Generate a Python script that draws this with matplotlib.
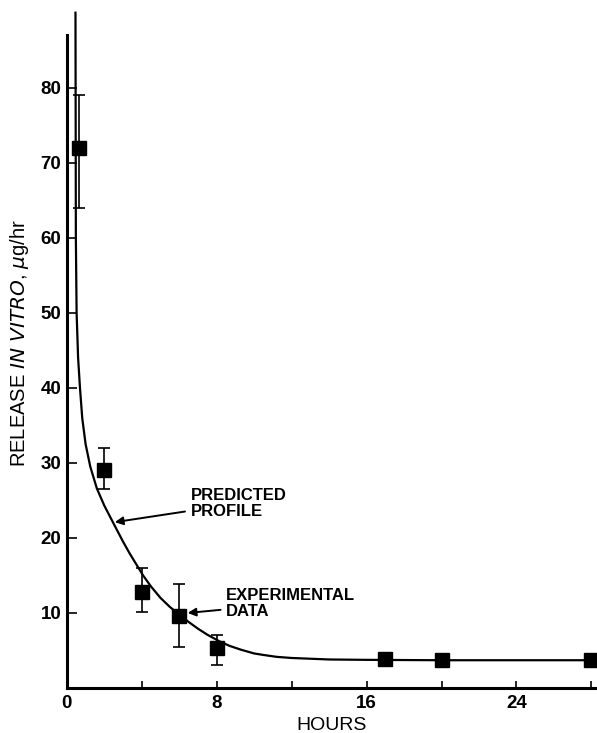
import matplotlib
matplotlib.use('Agg')
import matplotlib.pyplot as plt
import numpy as np

plt.rcParams['font.family'] = ['Liberation Sans', 'DejaVu Sans']

# experimental data (hours, release ug/hr, error bar low/high)
hours = [0.65, 2, 4, 6, 8, 17, 20, 28]
release = [72, 29, 12.8, 9.6, 5.3, 3.8, 3.7, 3.7]
err_low = [64, 26.5, 10.1, 5.5, 3.0, 3.5, 3.4, 3.4]
err_high = [79, 32, 16, 13.8, 7.0, 4.2, 4.0, 4.0]

# predicted profile
curve_x = [0.46, 0.47, 0.48, 0.52, 0.6, 0.7, 0.82, 1.0, 1.25, 1.6, 2.0,
           2.56, 3.0, 3.36, 4.07, 4.5, 5.0, 5.5, 6.03, 6.5, 7.0, 7.5,
           8.16, 8.7, 9.3, 10.0, 10.5, 11.2, 12.0, 13.0, 14.0, 16.0,
           20.0, 28.3]
curve_y = [90, 75, 60, 50, 44, 40, 36, 32.5, 29.5, 26.6, 24.3,
           21.6, 19.5, 17.9, 15.0, 13.5, 12.0, 10.8, 9.7, 8.8, 7.9, 7.1,
           6.2, 5.6, 5.1, 4.6, 4.4, 4.15, 4.0, 3.9, 3.8, 3.75,
           3.7, 3.7]

fig = plt.figure(figsize=(5.97, 7.33), dpi=100)
ax = fig.add_axes([0.112, 0.0614, 0.888, 0.8906])

ax.plot(curve_x, curve_y, color='black', lw=1.6, clip_on=False, zorder=3,
        solid_joinstyle='round')

yerr = [np.array(release) - np.array(err_low), np.array(err_high) - np.array(release)]
ax.errorbar(hours, release, yerr=yerr, fmt='s', color='black', ms=10.5,
            elinewidth=1.2, capsize=4.5, capthick=1.2, clip_on=False, zorder=4)

ax.set_xlim(0, 28.3)
ax.set_ylim(0, 87)
ax.spines['top'].set_visible(False)
ax.spines['right'].set_visible(False)
ax.spines['left'].set_linewidth(2.2)
ax.spines['bottom'].set_linewidth(2.2)

ax.set_xticks([0, 8, 16, 24])
ax.set_xticks([4, 12, 20, 28], minor=True)
ax.set_yticks([10, 20, 30, 40, 50, 60, 70, 80])
ax.tick_params(axis='both', direction='in', width=1.2, labelsize=13.5)
ax.tick_params(axis='x', length=5, pad=5)
ax.tick_params(axis='x', which='minor', direction='in', length=5, width=1.2)
ax.tick_params(axis='y', length=7, pad=4)
for lab in ax.get_xticklabels() + ax.get_yticklabels():
    lab.set_fontweight('bold')

ax.set_xlabel('HOURS', fontsize=14)
ax.xaxis.set_label_coords(0.5, -0.045)
ax.set_ylabel(r'RELEASE $\it{IN\ VITRO}$, $\mu$g/hr', fontsize=14.5)
ax.yaxis.set_label_coords(-0.068, 0.528)

ax.annotate('PREDICTED\nPROFILE', xy=(2.56, 22.1), xytext=(6.6, 24.6),
            fontsize=12, fontweight='bold', va='center', ha='left',
            linespacing=1.05,
            arrowprops=dict(arrowstyle='-|>', color='black', lw=1.4,
                            shrinkA=2, shrinkB=0, mutation_scale=12))
ax.annotate('EXPERIMENTAL\nDATA', xy=(6.45, 10.0), xytext=(8.5, 11.3),
            fontsize=12, fontweight='bold', va='center', ha='left',
            linespacing=1.05,
            arrowprops=dict(arrowstyle='-|>', color='black', lw=1.4,
                            shrinkA=2, shrinkB=0, mutation_scale=12))

fig.savefig('out.png', dpi=100)
